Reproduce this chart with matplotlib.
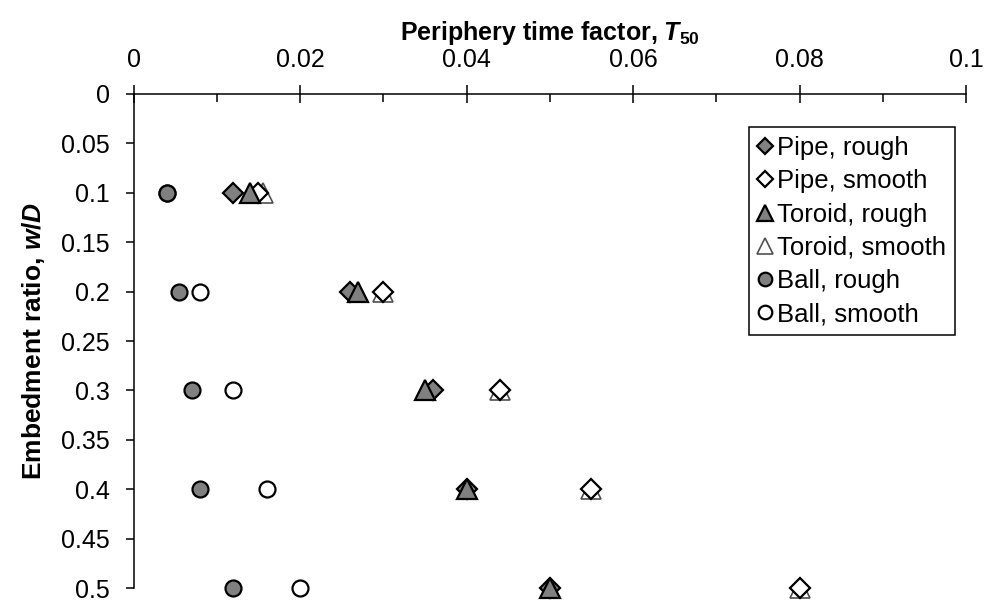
import matplotlib
matplotlib.use('Agg')
import matplotlib.pyplot as plt
from matplotlib.ticker import MultipleLocator

plt.rcParams['font.family'] = ['Liberation Sans', 'DejaVu Sans']
plt.rcParams['mathtext.fontset'] = 'custom'
plt.rcParams['mathtext.it'] = 'Liberation Sans:bold:italic'
plt.rcParams['mathtext.rm'] = 'Liberation Sans:bold'

# embedment ratio w/D
embed = [0.1, 0.2, 0.3, 0.4, 0.5]

# periphery time factor T50 per series
pipe_rough = [0.012, 0.026, 0.036, 0.040, 0.050]
pipe_smooth = [0.015, 0.030, 0.044, 0.055, 0.080]
toroid_rough = [0.014, 0.027, 0.035, 0.040, 0.050]
toroid_smooth = [0.0155, 0.030, 0.044, 0.055, 0.080]
ball_rough = [0.004, 0.0055, 0.007, 0.008, 0.012]
ball_smooth = [0.004, 0.008, 0.012, 0.016, 0.020]

x_ticks = [0, 0.02, 0.04, 0.06, 0.08, 0.1]
x_tick_labels = ['0', '0.02', '0.04', '0.06', '0.08', '0.1']
y_ticks = [0, 0.05, 0.1, 0.15, 0.2, 0.25, 0.3, 0.35, 0.4, 0.45, 0.5]
y_tick_labels = ['0', '0.05', '0.1', '0.15', '0.2', '0.25', '0.3', '0.35', '0.4', '0.45', '0.5']

fig = plt.figure(figsize=(9.84, 6.01), dpi=100)
ax = fig.add_axes([0.1357, 0.0216, 0.846, 0.822])

gray = '#808080'
series = [
    (pipe_rough, 'Pipe, rough', 'D', gray, 'black', 10, 1.6, 4),
    (pipe_smooth, 'Pipe, smooth', 'D', 'white', 'black', 10, 1.6, 3),
    (toroid_rough, 'Toroid, rough', '^', gray, 'black', 14, 1.6, 5),
    (toroid_smooth, 'Toroid, smooth', '^', 'white', '#505050', 14, 1.2, 2),
    (ball_rough, 'Ball, rough', 'o', gray, 'black', 11.5, 1.6, 7),
    (ball_smooth, 'Ball, smooth', 'o', 'white', 'black', 11.5, 1.6, 6),
]
for vals, label, mk, fc, ec, ms, mew, z in series:
    ax.plot(vals, embed, linestyle='none', marker=mk, markersize=ms,
            markerfacecolor=fc, markeredgecolor=ec, markeredgewidth=mew,
            label=label, zorder=z, clip_on=False)

ax.set_xlim(0, 0.1)
ax.set_ylim(0.5, 0)

ax.xaxis.tick_top()
ax.xaxis.set_label_position('top')
ax.set_xticks(x_ticks)
ax.set_xticklabels(x_tick_labels)
ax.xaxis.set_minor_locator(MultipleLocator(0.01))
ax.set_yticks(y_ticks)
ax.set_yticklabels(y_tick_labels)

ax.tick_params(axis='x', which='major', direction='inout', length=13, width=1.1,
               labelsize=18, pad=9)
ax.tick_params(axis='x', which='minor', direction='in', length=6, width=1.1)
ax.tick_params(axis='y', which='major', direction='out', length=6, width=1.1,
               labelsize=18, pad=11)

for side in ['right', 'bottom']:
    ax.spines[side].set_visible(False)
for side in ['top', 'left']:
    ax.spines[side].set_linewidth(1.1)

ax.set_xlabel(r'Periphery time factor, $T_{\mathrm{50}}$', fontsize=18,
              fontweight='bold', labelpad=6)
ax.set_ylabel(r'Embedment ratio, $w/D$', fontsize=19, fontweight='bold',
              labelpad=10)

leg = ax.legend(loc='upper right', bbox_to_anchor=(0.987, 0.933), fontsize=18.5,
                markerscale=0.85, handlelength=0.55, handletextpad=0.2,
                borderpad=0.35, labelspacing=0.36, frameon=True, fancybox=False,
                framealpha=1, borderaxespad=0)
leg.get_frame().set_edgecolor('black')
leg.get_frame().set_linewidth(1.1)

plt.savefig('out.png', dpi=100)
